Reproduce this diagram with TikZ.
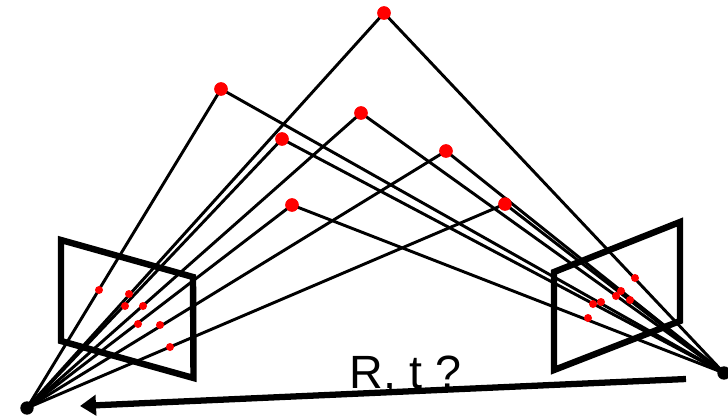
\documentclass[tikz,border=0pt]{standalone}
\usepackage{fontspec}
\setmainfont{Liberation Sans}
\usetikzlibrary{arrows.meta}
\tikzset{
  pt/.style={circle,fill={rgb,255:red,255;green,0;blue,0},draw=none,inner sep=0pt,minimum size=10pt},
  img/.style={circle,fill={rgb,255:red,255;green,0;blue,0},draw=none,inner sep=0pt,minimum size=6pt},
  cam/.style={circle,fill=black,draw=none,inner sep=0pt,minimum size=10pt},
  ray/.style={line width=2.2pt,black},
  plane/.style={line width=4.8pt,black,line join=miter},
  motion/.style={line width=4.7pt,black,-{Triangle[length=12pt,width=15pt]}}
}
\begin{document}
\begin{tikzpicture}[x=0.75pt,y=-0.75pt]
\useasboundingbox (0,0) rectangle (728,415);
\path[clip] (0,0) rectangle (728,415);
\coordinate (A1) at (61,240);
\coordinate (A2) at (193,277);
\coordinate (A3) at (193.5,378);
\coordinate (A4) at (61,341);
\coordinate (B1) at (554,272);
\coordinate (B2) at (680,222);
\coordinate (B3) at (680,321);
\coordinate (B4) at (554,370);
\coordinate (mS) at (686,379);
\coordinate (mT) at (80,406);
\node[anchor=base,font=\fontsize{35pt}{37pt}\selectfont,inner sep=0pt] (lab) at (405.5,388) {R, t ?};
\node[cam] (cL) at (27,408) {};
\node[cam] (cR) at (724,373) {};
\foreach \n/\x/\y in {p1/384/13,p2/221/89,p3/361/113,p4/282/139,p5/446/151,p6/292/205,p7/505/204}
  \node[pt] (\n) at (\x,\y) {};
\foreach \n in {p1,p2,p3,p4,p5,p6,p7}
  \draw[ray] (cL.center) -- (\n.center) -- (cR.center);
\draw[plane] (A1) -- (A2) -- (A3) -- (A4) -- cycle;
\draw[plane] (B1) -- (B2) -- (B3) -- (B4) -- cycle;
\draw[motion] (mS) -- (mT);
\foreach \n/\x/\y in {a1/99/290,a2/129/294,a3/125/306,a4/143/306,a5/138/324,a6/160/325,a7/170/347,b1/635/278,b2/621/291,b3/616/296,b4/630/300,b5/601/302,b6/593/304,b7/588/318}
  \node[img] (\n) at (\x,\y) {};
\foreach \n/\x/\y in {p1/384/13,p2/221/89,p3/361/113,p4/282/139,p5/446/151,p6/292/205,p7/505/204}
  \node[pt] at (\x,\y) {};
\end{tikzpicture}
\end{document}
